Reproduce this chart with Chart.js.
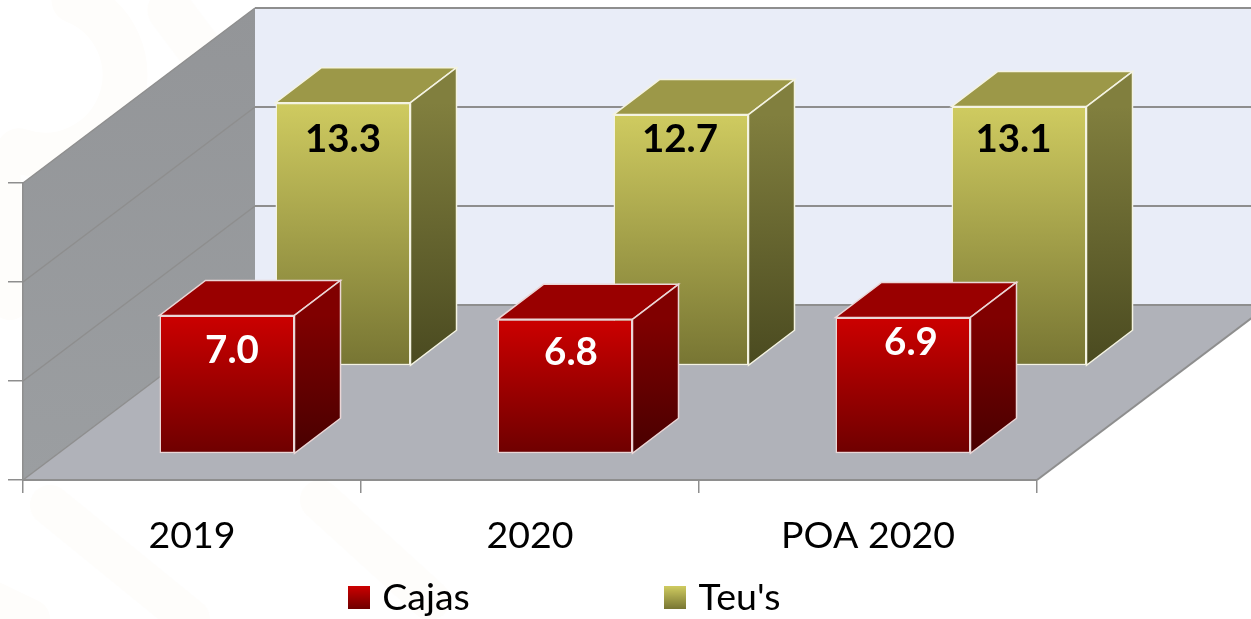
<!DOCTYPE html>
<html><head><meta charset="utf-8">
<style>html,body{margin:0;padding:0;background:#fff;overflow:hidden}#w{width:1251px;height:619px;position:relative}</style>
<script src="https://cdn.jsdelivr.net/npm/chart.js@4"></script>
</head><body><div id="w"><canvas id="c" width="1251" height="619"></canvas></div>
<script>
const categories = ['2019', '2020', 'POA 2020'];
const cajas = [7.0, 6.8, 6.9];
const teus = [13.3, 12.7, 13.1];
const seriesNames = ['Cajas', "Teu's"];

// 3D projection, all in pixels
const FLOOR = {x: 232, y: -175};
const BAR_DEPTH = {x: 46, y: -35};
const ROW = [{x: 35, y: -26}, {x: 151, y: -114}];
const LABEL_NUDGE = [[5, 6, 8], [0, -1, -5.5]];
const LABEL_Y = [[351, 353, 343], [140, 140, 140]];
const PAL = [
  {top:'#CC0000', bot:'#6E0000', lid:'#990000', s1:'#800000', s2:'#480000', edge:'#EBD6D6', label:'#FFFFFF'},
  {top:'#CFCB60', bot:'#777533', lid:'#9C9848', s1:'#817F3E', s2:'#4A4A20', edge:'#F4F3E2', label:'#000000'}
];
const GRID = '#8E8E8E';
const FONT = 'Lato, Carlito, Calibri, sans-serif';

function vgrad(ctx, y0, y1, a, b){const g=ctx.createLinearGradient(0,y0,0,y1);g.addColorStop(0,a);g.addColorStop(1,b);return g;}
function legendSwatch(p){
  const c=document.createElement('canvas');c.width=22;c.height=23;
  const x=c.getContext('2d');x.fillStyle=vgrad(x,0,23,p.top,p.bot);x.fillRect(0,0,22,23);
  return c;
}
function poly(ctx, pts){ctx.beginPath();pts.forEach((p,i)=>i?ctx.lineTo(p[0],p[1]):ctx.moveTo(p[0],p[1]));ctx.closePath();}

const scene = {
  id:'scene',
  beforeLayout(chart){
    const l=chart.legend;
    if(l && !l._wrapped){const f=l.fit;l.fit=function(){f.call(this);this.height=49;};l._wrapped=true;}
  },
  afterLayout(chart){
    const l=chart.legend;
    l.left=-42; l.right=1176; l.top=379; l.bottom=619;
  },
  beforeDraw(chart){
    const {ctx,chartArea:a,width,height}=chart;
    ctx.save();
    ctx.fillStyle='#fff';ctx.fillRect(0,0,width,height);
    // faint page watermark
    ctx.strokeStyle='#FEFDFB';ctx.lineCap='round';
    ctx.lineWidth=45;
    ctx.beginPath();ctx.arc(45,75,80,-1.2,1.9);ctx.stroke();
    ctx.beginPath();ctx.moveTo(170,10);ctx.lineTo(200,50);ctx.stroke();
    ctx.lineWidth=40;
    ctx.beginPath();ctx.moveTo(50,505);ctx.lineTo(190,619);ctx.stroke();
    ctx.beginPath();ctx.moveTo(320,500);ctx.lineTo(430,600);ctx.stroke();
    ctx.beginPath();ctx.moveTo(-10,600);ctx.lineTo(30,619);ctx.stroke();
    ctx.beginPath();ctx.moveTo(0,170);ctx.lineTo(10,300);ctx.stroke();
    const L=a.left,R=a.right,T=a.top,B=a.bottom,dx=FLOOR.x,dy=FLOOR.y,E=width+40;
    // back wall
    ctx.fillStyle='#E9EDF8';ctx.fillRect(L+dx,T+dy,E-L-dx,B-T);
    // left wall
    poly(ctx,[[L,T],[L+dx,T+dy],[L+dx,B+dy],[L,B]]);
    ctx.fillStyle=vgrad(ctx,T+dy,B,'#939598','#9B9EA1');ctx.fill();
    // floor
    poly(ctx,[[L,B],[L+dx,B+dy],[E,B+dy],[R+dx,B+dy],[R,B]]);
    ctx.fillStyle='#B0B2B9';ctx.fill();
    // wall gridlines from the value scale
    ctx.strokeStyle=GRID;ctx.lineWidth=1.5;ctx.lineCap='butt';
    chart.scales.y.ticks.forEach(t=>{
      const y=chart.scales.y.getPixelForValue(t.value);
      ctx.beginPath();ctx.moveTo(L,y);ctx.lineTo(L+dx,y+dy);ctx.stroke();
      ctx.lineWidth=2;
      ctx.beginPath();ctx.moveTo(L+dx,y+dy);ctx.lineTo(E,y+dy);ctx.stroke();
      ctx.lineWidth=1.5;
    });
    ctx.beginPath();ctx.moveTo(R,B);ctx.lineTo(R+dx,B+dy);ctx.lineWidth=2;ctx.stroke();
    ctx.restore();
  },
  beforeDatasetDraw(chart,args){
    const r=ROW[args.index];
    chart.ctx.save();chart.ctx.translate(r.x,r.y);
  },
  afterDatasetDraw(chart,args){
    const {ctx}=chart,p=PAL[args.index],dx=BAR_DEPTH.x,dy=BAR_DEPTH.y;
    args.meta.data.forEach(b=>{
      const l=b.x-b.width/2,rr=b.x+b.width/2,t=b.y,bt=b.base;
      poly(ctx,[[l,t],[rr,t],[rr+dx,t+dy],[l+dx,t+dy]]);
      ctx.fillStyle=p.lid;ctx.fill();ctx.strokeStyle=p.edge;ctx.lineWidth=1.5;ctx.stroke();
      poly(ctx,[[rr,t],[rr+dx,t+dy],[rr+dx,bt+dy],[rr,bt]]);
      ctx.fillStyle=vgrad(ctx,t,bt,p.s1,p.s2);ctx.fill();ctx.stroke();
    });
    ctx.restore();
    // value labels on the front face
    ctx.save();
    ctx.font='bold 38.5px '+FONT;ctx.textAlign='center';ctx.textBaseline='middle';
    ctx.fillStyle=p.label;
    const ds=chart.data.datasets[args.index];
    args.meta.data.forEach((b,i)=>{
      ctx.fillText(ds.data[i].toFixed(1), b.x+ROW[args.index].x+LABEL_NUDGE[args.index][i], LABEL_Y[args.index][i]);
    });
    ctx.restore();
  }
};

function faceFill(idx){
  return c=>{
    const y=c.chart.scales.y;
    if(!y||c.raw===undefined) return PAL[idx].top;
    return vgrad(c.chart.ctx,y.getPixelForValue(c.raw),y.getPixelForValue(0),PAL[idx].top,PAL[idx].bot);
  };
}

new Chart(document.getElementById('c'),{
  type:'bar',
  data:{labels:categories,datasets:[
    {label:seriesNames[0],data:cajas,backgroundColor:faceFill(0),borderColor:PAL[0].edge,borderWidth:1.5,borderSkipped:false,clip:false,pointStyle:legendSwatch(PAL[0])},
    {label:seriesNames[1],data:teus,backgroundColor:faceFill(1),borderColor:PAL[1].edge,borderWidth:1.5,borderSkipped:false,clip:false,pointStyle:legendSwatch(PAL[1])}
  ]},
  options:{
    responsive:false,animation:false,
    layout:{padding:{left:0,top:183,right:214,bottom:0}},
    datasets:{bar:{grouped:false,barPercentage:135/338,categoryPercentage:1}},
    plugins:{
      tooltip:{enabled:false},
      legend:{display:true,position:'bottom',
        labels:{usePointStyle:true,pointStyleWidth:10,padding:200,color:'#000',font:{family:FONT,size:37.5},
          generateLabels(chart){return chart.data.datasets.map((d,i)=>({text:d.label,pointStyle:d.pointStyle,datasetIndex:i,fontColor:'#000',lineWidth:0}));}
        }}
    },
    scales:{
      x:{afterFit(s){s.height=90;},
        grid:{drawOnChartArea:false,tickLength:13,color:GRID,lineWidth:1.5},
        border:{color:GRID,width:2},
        ticks:{color:'#000',padding:20,maxRotation:0,autoSkip:false,font:{family:FONT,size:37.5}}},
      y:{min:0,max:15,afterFit(s){s.width=23;},
        grid:{drawOnChartArea:false,tickLength:15,color:GRID,lineWidth:1.5},
        border:{color:GRID,width:1.5},
        ticks:{stepSize:5,padding:0,callback:()=>''}}
    }
  },
  plugins:[scene]
});
</script></body></html>
